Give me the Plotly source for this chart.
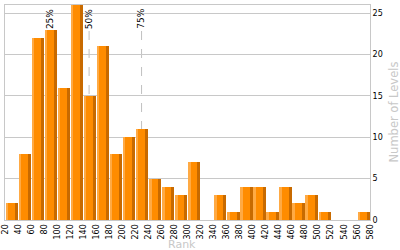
import plotly.graph_objects as go

# Data
bin_starts = list(range(20, 580, 20))
counts = [2, 8, 22, 23, 16, 26, 15, 21, 8, 10, 11, 5, 4, 3, 7, 0,
          3, 1, 4, 4, 1, 4, 2, 3, 1, 0, 0, 1]
percentile_labels = ["25%", "50%", "75%"]
percentile_values = [89, 149, 229.5]
x_ticks = list(range(20, 600, 20))
y_ticks = [0, 5, 10, 15, 20, 25]

FONT = "DejaVu Sans"
GRID = "#c8c8c8"

fig = go.Figure()
# main bar
fig.add_trace(go.Bar(x=bin_starts, y=counts, width=18.8, offset=1.0,
                     marker=dict(color="#FF8C00", line=dict(width=0)),
                     hoverinfo="skip"))
# light left stripe
fig.add_trace(go.Bar(x=bin_starts, y=counts, width=3.8, offset=1.0,
                     marker=dict(color="#FFAA44", line=dict(width=0)),
                     hoverinfo="skip"))
# dark right stripe
fig.add_trace(go.Bar(x=bin_starts, y=counts, width=4.6, offset=15.2,
                     marker=dict(color="#C86A00", line=dict(width=0)),
                     hoverinfo="skip"))

for lab, v in zip(percentile_labels, percentile_values):
    fig.add_shape(type="line", xref="x", yref="paper", x0=v, x1=v,
                  y0=0, y1=0.885, line=dict(color="#c0c0c0", width=1, dash="dash"),
                  layer="below")
    fig.add_annotation(x=v, xref="x", y=0.99, yref="paper", text=lab,
                       textangle=-90, showarrow=False, yanchor="top",
                       xanchor="center",
                       font=dict(family=FONT, size=9, color="#000000"))

fig.add_annotation(x=0.485, xref="paper", y=-0.0, yref="paper", yshift=-33,
                   text="Rank", showarrow=False, yanchor="bottom",
                   font=dict(family=FONT, size=11, color="#c8c8c8"))
fig.add_annotation(x=1, xref="paper", xshift=23, y=0.5, yref="paper",
                   text="Number of Levels", textangle=-90, showarrow=False,
                   xanchor="center", yanchor="middle",
                   font=dict(family=FONT, size=11.5, color="#c8c8c8"))

fig.update_layout(
    width=400, height=250,
    margin=dict(l=5, r=30, t=5, b=30, autoexpand=False),
    paper_bgcolor="white", plot_bgcolor="white",
    barmode="overlay", showlegend=False, bargap=0,
    font=dict(family=FONT, size=8, color="#000000"),
    xaxis=dict(range=[20, 580], tickvals=x_ticks, tickangle=-90,
               automargin=False,
               showgrid=False, zeroline=False, showline=True, mirror=True,
               linecolor=GRID, linewidth=1, ticks="", ticklen=0,
               tickfont=dict(family=FONT, size=8, color="#000000")),
    yaxis=dict(range=[0, 26], tickvals=y_ticks, side="right",
               automargin=False,
               showgrid=True, gridcolor=GRID, gridwidth=1, zeroline=False,
               showline=True, mirror=True, linecolor=GRID, linewidth=1,
               ticks="", tickfont=dict(family=FONT, size=8, color="#000000")),
)

fig.write_html("out.html")
